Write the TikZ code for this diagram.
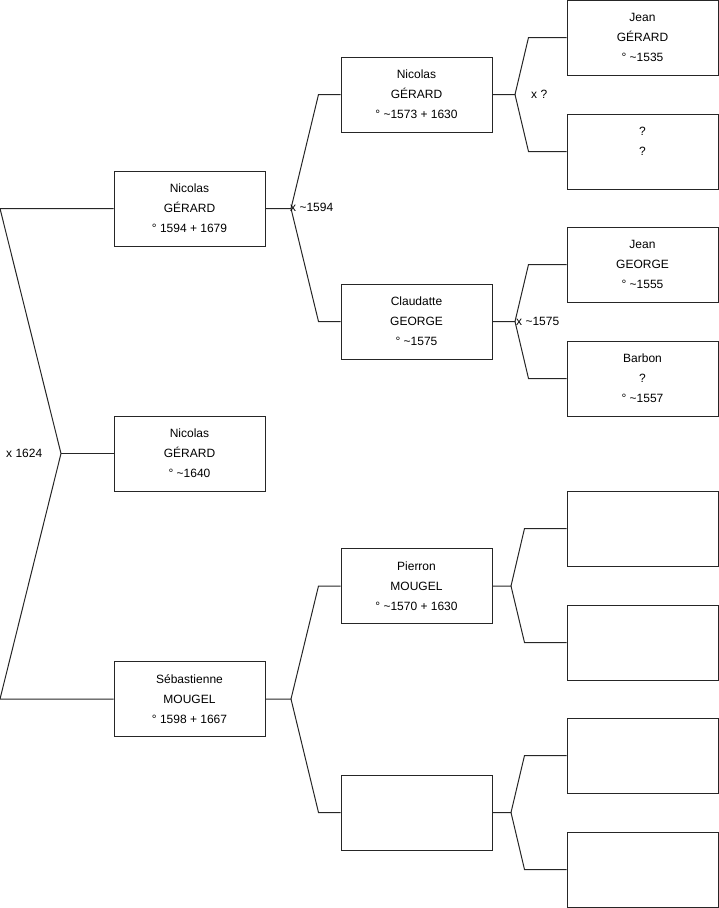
\documentclass[tikz,border=0pt]{standalone}
\usepackage{fontspec}
\setmainfont{Liberation Sans}
\usetikzlibrary{positioning}

\begin{document}
\begin{tikzpicture}[x=1pt, y=-1pt,
    person/.style={rectangle, draw=black!85, line width=1pt, fill=white,
                minimum width=151pt, minimum height=75pt, inner sep=0pt, align=center,
                font=\fontsize{12}{20}\selectfont},
    tie/.style={draw=black!85, line width=1pt},
    union/.style={anchor=west, inner sep=0pt, font=\fontsize{12}{14}\selectfont}]
\useasboundingbox (0,0) rectangle (719,908);
% generation 1 and 2
\node[person] (f) at (189.5,208.5) {Nicolas\\GÉRARD\\° 1594 + 1679};
\node[person] (child) at (189.5,453.5) {Nicolas\\GÉRARD\\° \textasciitilde1640};
\node[person] (m) at (189.5,699) {Sébastienne\\MOUGEL\\° 1598 + 1667};
% generation 3
\node[person] (ff) at (416.5,94.5) {Nicolas\\GÉRARD\\° \textasciitilde1573 + 1630};
\node[person] (fm) at (416.5,321.5) {Claudatte\\GEORGE\\° \textasciitilde1575};
\node[person] (mf) at (416.5,586) {Pierron\\MOUGEL\\° \textasciitilde1570 + 1630};
\node[person] (mm) at (416.5,812.5) {};
% generation 4
\node[person] (fff) at (642.5,37.5) {Jean\\GÉRARD\\° \textasciitilde1535};
\node[person] (ffm) at (642.5,151.5) {?\\?\\\mbox{}};
\node[person] (fmf) at (642.5,264.5) {Jean\\GEORGE\\° \textasciitilde1555};
\node[person] (fmm) at (642.5,378.5) {Barbon\\?\\° \textasciitilde1557};
\node[person] (mff) at (642.5,528.5) {};
\node[person] (mfm) at (642.5,642.5) {};
\node[person] (mmf) at (642.5,755.5) {};
\node[person] (mmm) at (642.5,869.5) {};
% junctions
\coordinate (cv) at (61,453.5);
\coordinate (fv) at (291,208.5);
\coordinate (mv) at (291,699);
\coordinate (ffv) at (515,94.5);
\coordinate (fmv) at (515,321.5);
\coordinate (mfv) at (511,586);
\coordinate (mmv) at (511,812.5);
% brackets
\draw[tie] (f.west) -- (0,208.5) -- (cv) -- (0,699) -- (m.west);
\draw[tie] (cv) -- (child.west);
\draw[tie] (ff.west) -- ++(-22,0) -- (fv) -- (f.east);
\draw[tie] (fm.west) -- ++(-22,0) -- (fv);
\draw[tie] (mf.west) -- ++(-22,0) -- (mv) -- (m.east);
\draw[tie] (mm.west) -- ++(-22,0) -- (mv);
\draw[tie] (fff.west) -- ++(-38,0) -- (ffv) -- (ff.east);
\draw[tie] (ffm.west) -- ++(-38,0) -- (ffv);
\draw[tie] (fmf.west) -- ++(-38,0) -- (fmv) -- (fm.east);
\draw[tie] (fmm.west) -- ++(-38,0) -- (fmv);
\draw[tie] (mff.west) -- ++(-42,0) -- (mfv) -- (mf.east);
\draw[tie] (mfm.west) -- ++(-42,0) -- (mfv);
\draw[tie] (mmf.west) -- ++(-42,0) -- (mmv) -- (mm.east);
\draw[tie] (mmm.west) -- ++(-42,0) -- (mmv);
% marriages
\node[union] (w1) at (6,453) {x 1624};
\node[union] (w2) at (290,207) {x \textasciitilde1594};
\node[union] (w3) at (531,94) {x ?};
\node[union] (w4) at (516,321) {x \textasciitilde1575};
\end{tikzpicture}
\end{document}
